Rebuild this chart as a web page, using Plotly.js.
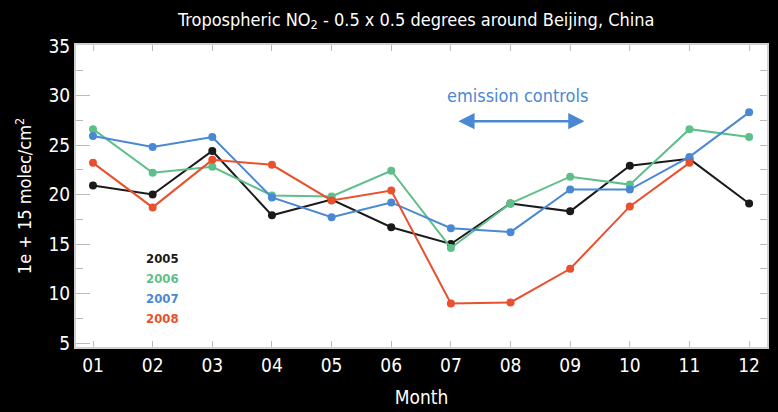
<!DOCTYPE html>
<html><head><meta charset="utf-8">
<script src="https://cdn.plot.ly/plotly-3.0.1.min.js"></script>
<style>html,body{margin:0;padding:0;background:#000;}#chart{width:778px;height:412px;}</style>
</head><body><div id="chart"></div>
<script>
const months = [1,2,3,4,5,6,7,8,9,10,11,12];
const monthLabels = ['01','02','03','04','05','06','07','08','09','10','11','12'];
const y2005 = [20.9, 20.0, 24.4, 17.9, 19.5, 16.7, 15.0, 19.1, 18.3, 22.9, 23.6, 19.1];
const y2006 = [26.6, 22.2, 22.8, 19.9, 19.8, 22.4, 14.6, 19.1, 21.8, 21.0, 26.6, 25.8];
const y2007 = [25.9, 24.8, 25.8, 19.7, 17.7, 19.2, 16.6, 16.2, 20.5, 20.5, 23.8, 28.3];
const y2008 = [23.2, 18.7, 23.5, 23.0, 19.4, 20.4, 9.0, 9.1, 12.5, 18.8, 23.2, null];
const seriesNames = ['2005','2006','2007','2008'];
const seriesColors = ['#1a1a1a','#5fbf8a','#4a88d4','#e8502e'];
const seriesData = [y2005, y2006, y2007, y2008];

const F = '"DejaVu Sans Condensed", "Liberation Sans Narrow", sans-serif';

const traces = seriesData.map((ys, i) => ({
  x: months, y: ys, type: 'scatter', mode: 'lines+markers',
  name: seriesNames[i],
  line: {color: seriesColors[i], width: 2},
  marker: {color: seriesColors[i], size: 8},
  connectgaps: false,
  showlegend: false
}));

const L = 76, R = 11, T = 45, B = 65, W = 778, H = 412;
const legendAnn = seriesNames.map((n, i) => ({
  text: '<b>' + n + '</b>',
  x: (144 - L) / (W - L - R),
  y: 1 - ((258 + i * 20) - T) / (H - T - B),
  xref: 'paper', yref: 'paper', xanchor: 'left', yanchor: 'middle',
  showarrow: false, font: {family: F, size: 13, color: seriesColors[i]}
}));

const layout = {
  width: W, height: H,
  paper_bgcolor: '#000', plot_bgcolor: '#fff',
  margin: {l: L, r: R, t: T, b: B},
  title: {text: 'Tropospheric NO<sub>2</sub> - 0.5 x 0.5 degrees around Beijing, China',
          font: {family: F, size: 18, color: '#fff'}, x: 0.535, xanchor: 'center', y: 0.953, yanchor: 'middle'},
  xaxis: {
    range: [0.715, 12.3], tickvals: months, ticktext: monthLabels,
    ticks: 'inside', ticklen: 6, tickcolor: '#bbb', tickwidth: 1,
    showline: true, linecolor: '#d0d0d0', linewidth: 2, mirror: 'ticks',
    showgrid: false, zeroline: false,
    tickfont: {family: F, size: 19, color: '#fff'},
    title: {text: 'Month', font: {family: F, size: 19, color: '#fff'}, standoff: 16}
  },
  yaxis: {
    range: [4.6, 35.1], tickvals: [5,10,15,20,25,30,35],
    ticks: 'inside', ticklen: 14, tickcolor: '#bbb', tickwidth: 1,
    minor: {tickvals: [7.5,12.5,17.5,22.5,27.5,32.5], ticks: 'inside', ticklen: 7, tickcolor: '#bbb'},
    showline: true, linecolor: '#d0d0d0', linewidth: 2, mirror: true,
    showgrid: false, zeroline: false,
    tickfont: {family: F, size: 19, color: '#fff'},
    title: {text: '1e + 15 molec/cm<sup>2</sup>', font: {family: F, size: 18, color: '#fff'}, standoff: 12}
  },
  yaxis2: {
    overlaying: 'y', side: 'right', matches: 'y', range: [4.6, 35.1],
    tickvals: [7.5,10,12.5,15,17.5,20,22.5,25,27.5,30,32.5],
    ticks: 'inside', ticklen: 7, tickcolor: '#bbb', showticklabels: false,
    showgrid: false, zeroline: false, showline: false
  },
  annotations: legendAnn.concat([
    {text: 'emission controls', x: 8.12, y: 30.0, xref: 'x', yref: 'y', showarrow: false,
     font: {family: F, size: 18, color: '#4a88d4'}},
    {text: '', x: 9.24, y: 27.4, ax: 7.1, ay: 27.4, xref: 'x', yref: 'y', axref: 'x', ayref: 'y',
     showarrow: true, arrowhead: 2, startarrowhead: 2, arrowside: 'end+start', arrowsize: 1.3, arrowwidth: 2.5,
     arrowcolor: '#4a88d4'}
  ])
};

traces.push({x: [1], y: [null], yaxis: 'y2', type: 'scatter', mode: 'markers', showlegend: false, hoverinfo: 'skip'});

Plotly.newPlot('chart', traces, layout, {displayModeBar: false});
</script>
</body></html>
